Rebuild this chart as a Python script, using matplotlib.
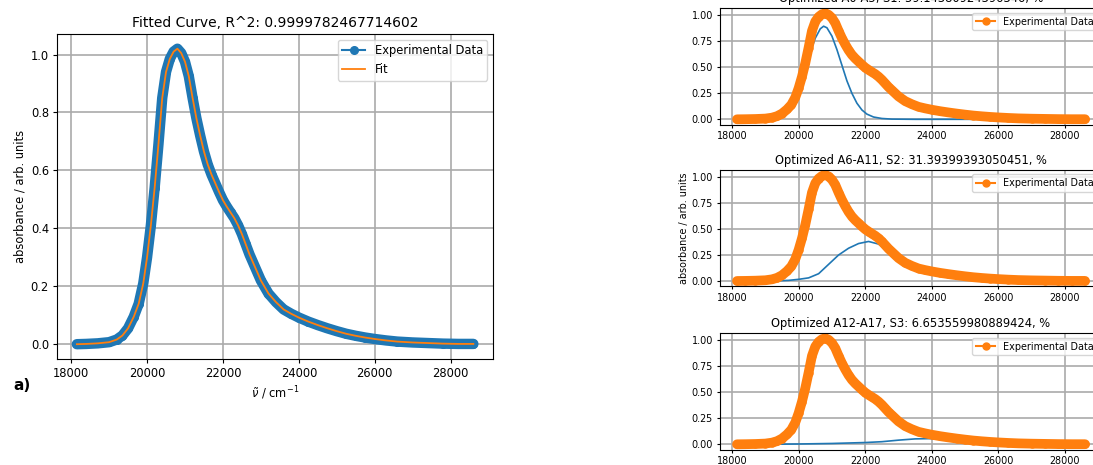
import matplotlib
matplotlib.use("Agg")
import matplotlib.pyplot as plt

# experimental absorbance spectrum
wn = [18150, 18400, 18700, 19000, 19200, 19350, 19500, 19650, 19780, 19900,
      20000, 20100, 20200, 20300, 20400, 20500, 20600, 20700, 20800, 20900,
      21000, 21100, 21200, 21300, 21400, 21500, 21600, 21700, 21800, 21900,
      22000, 22100, 22200, 22300, 22400, 22500, 22600, 22700, 22800, 22900,
      23000, 23200, 23400, 23600, 23800, 24000, 24250, 24500, 24750, 25000,
      25250, 25500, 25750, 26000, 26300, 26600, 27000, 27400, 27800, 28200,
      28600]
absorb = [0.000, 0.001, 0.003, 0.007, 0.016, 0.030, 0.055, 0.095, 0.140, 0.210,
          0.300, 0.410, 0.540, 0.690, 0.850, 0.940, 0.985, 1.010, 1.020, 1.005,
          0.975, 0.925, 0.850, 0.780, 0.720, 0.665, 0.620, 0.585, 0.555, 0.525,
          0.497, 0.475, 0.455, 0.435, 0.410, 0.380, 0.345, 0.310, 0.280, 0.250,
          0.220, 0.175, 0.145, 0.120, 0.105, 0.092, 0.078, 0.066, 0.055, 0.045,
          0.036, 0.029, 0.023, 0.018, 0.013, 0.009, 0.006, 0.004, 0.002, 0.001,
          0.001]

# fitted components
s1_x = [18150, 19000, 19300, 19500, 19700, 19900, 20100, 20300, 20500, 20650,
        20750, 20850, 21000, 21150, 21300, 21450, 21600, 21750, 21900, 22050,
        22250, 22500, 22800, 23500, 28600]
s1_y = [0.0, 0.004, 0.02, 0.05, 0.11, 0.22, 0.40, 0.60, 0.78, 0.87,
        0.895, 0.88, 0.80, 0.67, 0.52, 0.37, 0.25, 0.155, 0.09, 0.05,
        0.022, 0.008, 0.002, 0.0, 0.0]
s2_x = [18150, 19300, 19700, 20000, 20300, 20600, 20900, 21200, 21500, 21800,
        22100, 22400, 22700, 23000, 23300, 23600, 24000, 24500, 25000, 25500,
        26000, 27000, 28600]
s2_y = [0.0, 0.001, 0.006, 0.016, 0.03, 0.07, 0.16, 0.25, 0.315, 0.36,
        0.38, 0.355, 0.28, 0.19, 0.125, 0.09, 0.062, 0.04, 0.024, 0.014,
        0.008, 0.003, 0.0]
s3_x = [18150, 19300, 20000, 21000, 22000, 22500, 23000, 23500, 24000, 24500,
        25000, 25500, 26000, 27000, 28600]
s3_y = [0.0, 0.001, 0.003, 0.008, 0.017, 0.025, 0.040, 0.052, 0.055, 0.050,
        0.040, 0.030, 0.020, 0.008, 0.002]

titles = ["Optimized A0-A5, S1: 59.14380924396346, %",
          "Optimized A6-A11, S2: 31.39399393050451, %",
          "Optimized A12-A17, S3: 6.653559980889424, %"]
x_ticks = [18000, 20000, 22000, 24000, 26000, 28000]

fig = plt.figure(figsize=(10.93, 4.65), dpi=100)

# left panel: fit overview
ax = fig.add_axes([0.0522, 0.228, 0.399, 0.699])
ax.plot(wn, absorb, '-', color='C0', lw=7.5, solid_capstyle='round',
        solid_joinstyle='round')
ax.plot(wn, absorb, 'o-', color='C0', ms=5.5, label='Experimental Data')
ax.plot(wn, absorb, '-', color='C1', lw=1.3, label='Fit')
ax.set_title("Fitted Curve, R^2: 0.9999782467714602", fontsize=10, pad=5)
ax.set_xlabel(r"$\tilde{\nu}$ / cm$^{-1}$", fontsize=8.3, labelpad=3)
ax.set_ylabel("absorbance / arb. units", fontsize=8.3, labelpad=3)
ax.set_xticks(x_ticks)
ax.tick_params(labelsize=8.3, length=2.9, pad=2.9)
ax.grid(True, color='#aaaaaa', lw=1.2)
ax.legend(loc='upper right', fontsize=8.3)
fig.text(0.012, 1 - 385 / 465, "a)", fontsize=11, fontweight='bold', va='center')

# right panels: single components
comps = [(s1_x, s1_y), (s2_x, s2_y), (s3_x, s3_y)]
bottoms = [0.732, 0.3843, 0.0331]
for (cx, cy), title, y0 in zip(comps, titles, bottoms):
    a = fig.add_axes([0.6584, y0, 0.3502, 0.251])
    a.plot(cx, cy, '-', color='C0', lw=1.2)
    a.plot(wn, absorb, '-', color='C1', lw=7, solid_capstyle='round',
           solid_joinstyle='round')
    a.plot(wn, absorb, 'o-', color='C1', ms=5, label='Experimental Data')
    a.set_title(title, fontsize=8.3, pad=4)
    a.set_xticks(x_ticks)
    a.set_yticks([0.0, 0.25, 0.5, 0.75, 1.0])
    a.tick_params(labelsize=6.9, length=2.4, pad=2.4)
    a.grid(True, color='#aaaaaa', lw=1.2)
    a.legend(loc='upper right', fontsize=6.9)
    if y0 == bottoms[1]:
        a.set_ylabel("absorbance / arb. units", fontsize=6.9, labelpad=2)

fig.savefig("out.png", dpi=100)
